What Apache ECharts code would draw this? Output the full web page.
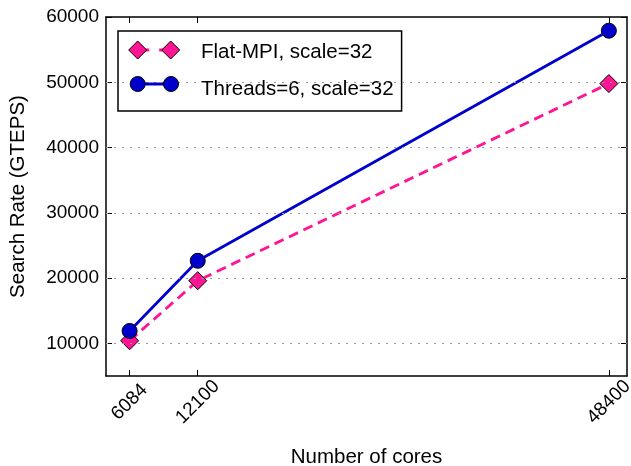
<!DOCTYPE html>
<html>
<head>
<meta charset="utf-8">
<script src="https://cdn.jsdelivr.net/npm/echarts@6/dist/echarts.min.js"></script>
<style>
  html, body { margin: 0; padding: 0; background: #fff; }
  #chart { width: 631px; height: 466px; }
</style>
</head>
<body>
<div id="chart"></div>
<script>
// cores on the x axis
const cores = [6084, 12100, 48400]
// search rate, GTEPS
const flatMpi = [10400, 19600, 49800]
const threads6 = [11900, 22650, 57900]
const seriesNames = ['Flat-MPI, scale=32', 'Threads=6, scale=32']
const yTicks = [10000, 20000, 30000, 40000, 50000, 60000]
const gridLevels = [10000, 20000, 30000, 40000, 50000]

const font = 'Liberation Sans, Arial, sans-serif'
const pink = '#ff1493'
const blue = '#0000cd'

function pairs(ys) {
  return cores.map((c, i) => [c, ys[i]])
}

const chart = echarts.init(document.getElementById('chart'))

const frameLine = { show: true, onZero: false, lineStyle: { color: '#000', width: 1.5 } }
const plain = v => String(v)

chart.setOption({
  animation: false,
  textStyle: { fontFamily: font },
  grid: { left: 106, right: 4, top: 17, bottom: 90, outerBoundsMode: 'none', containLabel: false },
  legend: {
    orient: 'vertical',
    left: 118,
    top: 31,
    padding: [11, 8, 11, 10],
    itemWidth: 67,
    itemHeight: 18,
    itemGap: 16,
    backgroundColor: '#fff',
    borderColor: '#000',
    borderWidth: 1.5,
    textStyle: { fontSize: 20.5, lineHeight: 18, color: '#000', fontFamily: font },
    data: seriesNames.map(n => ({ name: n, itemStyle: { opacity: 0 }, lineStyle: { opacity: 0 } }))
  },
  // swatches in the matplotlib style: marker, line, marker
  graphic: [
    { type: 'line', z: 100, shape: { x1: 137.7, y1: 50, x2: 170.7, y2: 50 },
      style: { stroke: pink, lineWidth: 2.8, lineDash: [11.5, 10] } },
    { type: 'polygon', z: 101, shape: { points: [[128.7, 50], [137.7, 41], [146.7, 50], [137.7, 59]] },
      style: { fill: pink, stroke: '#000', lineWidth: 1 } },
    { type: 'polygon', z: 101, shape: { points: [[161.7, 50], [170.7, 41], [179.7, 50], [170.7, 59]] },
      style: { fill: pink, stroke: '#000', lineWidth: 1 } },
    { type: 'line', z: 100, shape: { x1: 137.7, y1: 84, x2: 171, y2: 84 },
      style: { stroke: blue, lineWidth: 2.8 } },
    { type: 'circle', z: 101, shape: { cx: 137.7, cy: 84, r: 7.5 },
      style: { fill: blue, stroke: '#000', lineWidth: 1 } },
    { type: 'circle', z: 101, shape: { cx: 171, cy: 84, r: 7.5 },
      style: { fill: blue, stroke: '#000', lineWidth: 1 } }
  ],
  xAxis: [{
    type: 'value',
    min: 4000,
    max: 50000,
    position: 'bottom',
    name: 'Number of cores',
    nameLocation: 'middle',
    nameGap: 71,
    nameTextStyle: { fontSize: 20.5, color: '#000', fontFamily: font },
    axisLine: frameLine,
    axisTick: { show: true, inside: true, length: 6, customValues: cores, lineStyle: { color: '#000', width: 1 } },
    axisLabel: {
      customValues: cores,
      formatter: plain,
      rotate: 45,
      align: 'center',
      verticalAlign: 'middle',
      margin: 26,
      fontSize: 19,
      color: '#000',
      fontFamily: font
    },
    splitLine: { show: false }
  }, {
    type: 'value',
    min: 4000,
    max: 50000,
    position: 'top',
    axisLine: frameLine,
    axisTick: { show: true, inside: true, length: 6, customValues: cores, lineStyle: { color: '#000', width: 1 } },
    axisLabel: { show: false },
    splitLine: { show: false }
  }],
  yAxis: [{
    type: 'value',
    min: 5000,
    max: 60000,
    position: 'left',
    name: 'Search Rate (GTEPS)',
    nameLocation: 'middle',
    nameGap: 77,
    nameTextStyle: { fontSize: 20.5, color: '#000', fontFamily: font },
    axisLine: frameLine,
    axisTick: { show: true, inside: true, length: 6, customValues: yTicks, lineStyle: { color: '#000', width: 1 } },
    axisLabel: { customValues: yTicks, formatter: plain, margin: 7, fontSize: 19, color: '#000', fontFamily: font },
    splitLine: { show: false }
  }, {
    type: 'value',
    min: 5000,
    max: 60000,
    position: 'right',
    axisLine: frameLine,
    axisTick: { show: true, inside: true, length: 6, customValues: yTicks, lineStyle: { color: '#000', width: 1 } },
    axisLabel: { show: false },
    splitLine: { show: false }
  }],
  series: [{
    name: seriesNames[0],
    type: 'line',
    data: pairs(flatMpi),
    symbol: 'diamond',
    symbolSize: 18,
    itemStyle: { color: pink, borderColor: '#000', borderWidth: 1 },
    lineStyle: { color: pink, width: 2.8, type: [10, 6] },
    markLine: {
      silent: true,
      symbol: 'none',
      label: { show: false },
      lineStyle: { color: '#999', width: 1, type: [2, 6] },
      data: gridLevels.map(v => ({ yAxis: v }))
    },
    z: 3
  }, {
    name: seriesNames[1],
    type: 'line',
    data: pairs(threads6),
    symbol: 'circle',
    symbolSize: 15,
    itemStyle: { color: blue, borderColor: '#000', borderWidth: 1 },
    lineStyle: { color: blue, width: 2.8 },
    z: 3
  }]
})
</script>
</body>
</html>
